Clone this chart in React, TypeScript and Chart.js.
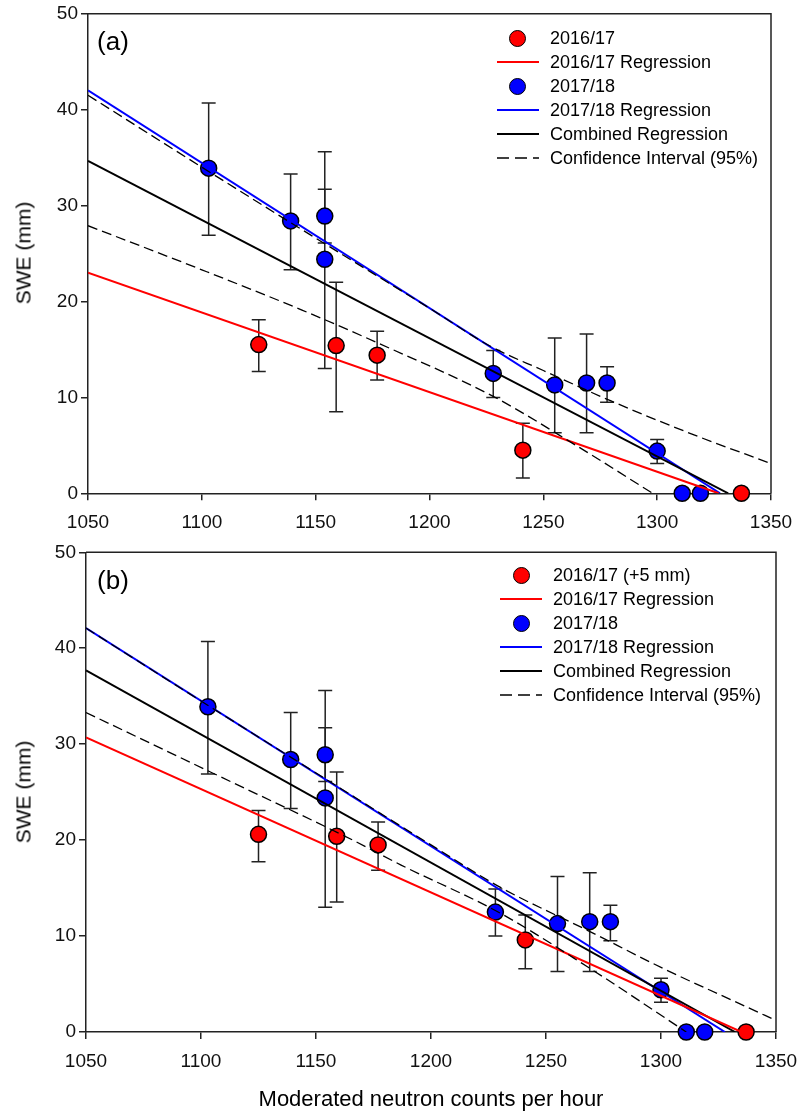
import React, { useEffect, useRef } from 'react';
import { Chart, registerables } from 'chart.js';
Chart.register(...registerables);

const FONT = '"Liberation Sans", Arial, Helvetica, sans-serif';

const xTicks = [1050, 1100, 1150, 1200, 1250, 1300, 1350];
const yTicks = [0, 10, 20, 30, 40, 50];

// 2016/17 observations
const x2016 = [1125, 1159, 1177, 1241, 1337];
const swe2016A = [15.5, 15.4, 14.4, 4.5, 0];
const low2016A = [12.7, 8.5, 11.8, 1.6, null];
const high2016A = [18.1, 22.0, 16.9, 7.3, null];
const swe2016B = [20.6, 20.4, 19.5, 9.6, 0];
const low2016B = [17.75, 13.55, 16.85, 6.6, null];
const high2016B = [23.1, 27.1, 21.9, 12.2, null];

// 2017/18 observations
const x2017 = [1103, 1139, 1154, 1154, 1228, 1255, 1269, 1278, 1300, 1311, 1319];
const swe2017 = [33.9, 28.4, 28.9, 24.4, 12.5, 11.3, 11.5, 11.5, 4.4, 0, 0];
const low2017 = [26.9, 23.3, 26.1, 13.0, 10.0, 6.3, 6.3, 9.5, 3.1, null, null];
const high2017 = [40.7, 33.3, 35.6, 31.7, 14.9, 16.2, 16.6, 13.2, 5.6, null, null];

// Panel (a) regression lines
const redRegAX = [1050, 1327];
const redRegAY = [23.0, 0];
const blueRegAX = [1050, 1327.6];
const blueRegAY = [42.0, 0];
const combRegAX = [1050, 1331.2];
const combRegAY = [34.65, 0];
const ciUpAX = [1050, 1100, 1150, 1200, 1227, 1250, 1280, 1315, 1350];
const ciUpAY = [41.5, 34.0, 26.6, 19.3, 15.3, 12.8, 9.6, 6.2, 3.1];
const ciLoAX = [1050, 1100, 1144, 1178, 1228, 1265, 1298];
const ciLoAY = [27.9, 23.3, 19.1, 15.6, 10.1, 4.9, 0];

// Panel (b) regression lines
const redRegBX = [1050, 1335];
const redRegBY = [30.7, 0];
const blueRegBX = [1050, 1327.8];
const blueRegBY = [42.1, 0];
const combRegBX = [1050, 1332.2];
const combRegBY = [37.7, 0];
const ciUpBX = [1050, 1100, 1150, 1200, 1230, 1268, 1302, 1331, 1350];
const ciUpBY = [42.1, 34.5, 27.0, 19.5, 15.1, 10.6, 6.5, 3.3, 1.2];
const ciLoBX = [1050, 1105, 1166, 1187, 1230, 1268, 1311];
const ciLoBY = [33.3, 27.0, 20.0, 17.4, 12.4, 6.8, 0];

const legendA = ['2016/17', '2016/17 Regression', '2017/18', '2017/18 Regression', 'Combined Regression', 'Confidence Interval (95%)'];
const legendB = ['2016/17 (+5 mm)', '2016/17 Regression', '2017/18', '2017/18 Regression', 'Combined Regression', 'Confidence Interval (95%)'];

const pts = (xs: number[], ys: number[]) => xs.map((x, i) => ({ x, y: ys[i] }));

const errorBarPlugin = {
  id: 'errorBars',
  beforeDatasetsDraw(chart: any) {
    const ctx = chart.ctx;
    const xs = chart.scales.x;
    const ys = chart.scales.y;
    const a = chart.chartArea;
    ctx.save();
    ctx.strokeStyle = '#222';
    ctx.lineWidth = 1.5;
    ctx.beginPath();
    ctx.moveTo(a.left, a.top);
    ctx.lineTo(a.right, a.top);
    ctx.lineTo(a.right, a.bottom);
    ctx.stroke();
    ctx.restore();
    chart.data.datasets.forEach((ds: any) => {
      if (!ds.errLow) return;
      ds.data.forEach((p: any, i: number) => {
        const lo = ds.errLow[i];
        const hi = ds.errHigh[i];
        if (lo == null || hi == null) return;
        const px = xs.getPixelForValue(p.x);
        const yl = ys.getPixelForValue(lo);
        const yh = ys.getPixelForValue(hi);
        ctx.save();
        ctx.strokeStyle = '#222';
        ctx.lineWidth = 1.5;
        ctx.beginPath();
        ctx.moveTo(px, yl);
        ctx.lineTo(px, yh);
        ctx.moveTo(px - 7, yl);
        ctx.lineTo(px + 7, yl);
        ctx.moveTo(px - 7, yh);
        ctx.lineTo(px + 7, yh);
        ctx.stroke();
        ctx.restore();
      });
    });
  },
};

function lineDs(xs: number[], ys: number[], color: string, width: number, dash: number[] = [], smooth = false) {
  return {
    type: 'scatter',
    data: pts(xs, ys),
    showLine: true,
    borderColor: color,
    borderWidth: width,
    borderDash: dash,
    pointRadius: 0,
    fill: false,
    tension: smooth ? 0.4 : 0,
    cubicInterpolationMode: smooth ? 'monotone' : 'default',
    order: 0,
  };
}

function pointDs(xs: number[], ys: number[], lo: any[], hi: any[], color: string) {
  return {
    type: 'scatter',
    data: pts(xs, ys),
    errLow: lo,
    errHigh: hi,
    pointRadius: 8,
    pointBackgroundColor: color,
    pointBorderColor: '#000',
    pointBorderWidth: 1.5,
    showLine: false,
    clip: false,
    order: 1,
  };
}

const CANVAS_W = 850;

type PanelProps = {
  top: number;
  height: number;
  yWidth: number;
  xHeight: number;
  padTop: number;
  right: number;
  datasets: any[];
};

function Panel({ top, height, yWidth, xHeight, padTop, right, datasets }: PanelProps) {
  const ref = useRef<HTMLCanvasElement>(null);
  useEffect(() => {
    if (!ref.current) return;
    const tickFont = { family: FONT, size: 19 };
    const chart = new Chart(ref.current, {
      type: 'scatter',
      data: { datasets } as any,
      plugins: [errorBarPlugin],
      options: {
        animation: false,
        responsive: false,
        maintainAspectRatio: false,
        layout: { padding: { top: padTop, right: CANVAS_W - right, left: 0, bottom: 0 } },
        plugins: { legend: { display: false }, tooltip: { enabled: false } },
        scales: {
          x: {
            type: 'linear',
            min: 1050,
            max: 1350,
            afterBuildTicks: (s: any) => {
              s.ticks = xTicks.map((v) => ({ value: v }));
            },
            afterFit: (s: any) => {
              s.height = xHeight;
            },
            grid: { drawOnChartArea: false, drawTicks: true, tickLength: 7, color: '#222', lineWidth: 1.5 },
            border: { display: true, color: '#222', width: 1.5 },
            ticks: {
              font: tickFont,
              color: '#111',
              padding: 11,
              maxRotation: 0,
              autoSkip: false,
              callback: (v: any) => String(v),
            },
          },
          y: {
            type: 'linear',
            min: 0,
            max: 50,
            afterBuildTicks: (s: any) => {
              s.ticks = yTicks.map((v) => ({ value: v }));
            },
            afterFit: (s: any) => {
              s.width = yWidth;
            },
            grid: { drawOnChartArea: false, drawTicks: true, tickLength: 7, color: '#222', lineWidth: 1.5 },
            border: { display: true, color: '#222', width: 1.5 },
            ticks: { font: tickFont, color: '#111', padding: 3, autoSkip: false, callback: (v: any) => String(v) },
          },
        },
      } as any,
    });
    return () => chart.destroy();
  }, []);
  return (
    <canvas
      ref={ref}
      width={CANVAS_W}
      height={height}
      style={{ position: 'absolute', left: 0, top, width: CANVAS_W, height }}
    />
  );
}

function Legend({ labels, rowY, circleX, lineX1, lineX2, textX }: any) {
  const kinds = ['red-dot', 'red-line', 'blue-dot', 'blue-line', 'black-line', 'dash'];
  return (
    <>
      {labels.map((lab: string, i: number) => {
        const y = rowY + i * 24;
        const k = kinds[i];
        let sym: any = null;
        if (k.endsWith('dot')) {
          sym = (
            <div
              style={{
                position: 'absolute',
                left: circleX - 8.5,
                top: y - 8.5,
                width: 17,
                height: 17,
                boxSizing: 'border-box',
                borderRadius: '50%',
                border: '1.5px solid #000',
                background: k.startsWith('red') ? '#ff0000' : '#0000ff',
              }}
            />
          );
        } else {
          const color = k.startsWith('red') ? '#ff0000' : k.startsWith('blue') ? '#0000ff' : '#000';
          sym = (
            <svg
              style={{ position: 'absolute', left: lineX1, top: y - 3 }}
              width={lineX2 - lineX1}
              height={6}
            >
              <line
                x1={0}
                y1={3}
                x2={lineX2 - lineX1}
                y2={3}
                stroke={color}
                strokeWidth={k === 'dash' ? 1.3 : 2}
                strokeDasharray={k === 'dash' ? '12 6' : undefined}
              />
            </svg>
          );
        }
        return (
          <React.Fragment key={i}>
            {sym}
            <div
              style={{
                position: 'absolute',
                left: textX,
                top: y,
                transform: 'translateY(-50%)',
                fontFamily: FONT,
                fontSize: 18,
                lineHeight: '20px',
                color: '#000',
                whiteSpace: 'nowrap',
              }}
            >
              {lab}
            </div>
          </React.Fragment>
        );
      })}
    </>
  );
}

const textStyle = (x: number, y: number, size: number, rotate = false): any => ({
  position: 'absolute',
  left: x,
  top: y,
  transform: rotate ? 'translate(-50%,-50%) rotate(-90deg)' : 'translate(-50%,-50%)',
  fontFamily: FONT,
  fontSize: size,
  color: '#000',
  whiteSpace: 'nowrap',
  lineHeight: 1,
});

export default function App() {
  const dsA = [
    lineDs(ciUpAX, ciUpAY, '#000', 1.3, [10, 5], true),
    lineDs(ciLoAX, ciLoAY, '#000', 1.3, [10, 5], true),
    lineDs(redRegAX, redRegAY, '#ff0000', 2),
    lineDs(combRegAX, combRegAY, '#000', 2),
    lineDs(blueRegAX, blueRegAY, '#0000ff', 2),
    pointDs(x2016, swe2016A, low2016A, high2016A, '#ff0000'),
    pointDs(x2017, swe2017, low2017, high2017, '#0000ff'),
  ];
  const dsB = [
    lineDs(ciUpBX, ciUpBY, '#000', 1.3, [10, 5], true),
    lineDs(ciLoBX, ciLoBY, '#000', 1.3, [10, 5], true),
    lineDs(redRegBX, redRegBY, '#ff0000', 2),
    lineDs(combRegBX, combRegBY, '#000', 2),
    lineDs(blueRegBX, blueRegBY, '#0000ff', 2),
    pointDs(x2016, swe2016B, low2016B, high2016B, '#ff0000'),
    pointDs(x2017, swe2017, low2017, high2017, '#0000ff'),
  ];
  return (
    <div style={{ position: 'absolute', left: 0, top: 0, width: 798, height: 1117, background: '#fff', overflow: 'hidden' }}>
      <Panel top={-10} height={550} yWidth={88} xHeight={46.7} padTop={23.7} right={771} datasets={dsA} />
      <Panel top={530} height={587} yWidth={86} xHeight={85} padTop={22.3} right={776} datasets={dsB} />
      <div style={textStyle(113, 41, 26)}>(a)</div>
      <div style={textStyle(113, 580, 26)}>(b)</div>
      <div style={textStyle(23, 253, 21, true)}>SWE (mm)</div>
      <div style={textStyle(23, 792, 21, true)}>SWE (mm)</div>
      <div style={textStyle(431, 1099, 22)}>Moderated neutron counts per hour</div>
      <Legend labels={legendA} rowY={38} circleX={517} lineX1={497} lineX2={539} textX={550} />
      <Legend labels={legendB} rowY={575} circleX={521} lineX1={500} lineX2={542} textX={553} />
    </div>
  );
}
